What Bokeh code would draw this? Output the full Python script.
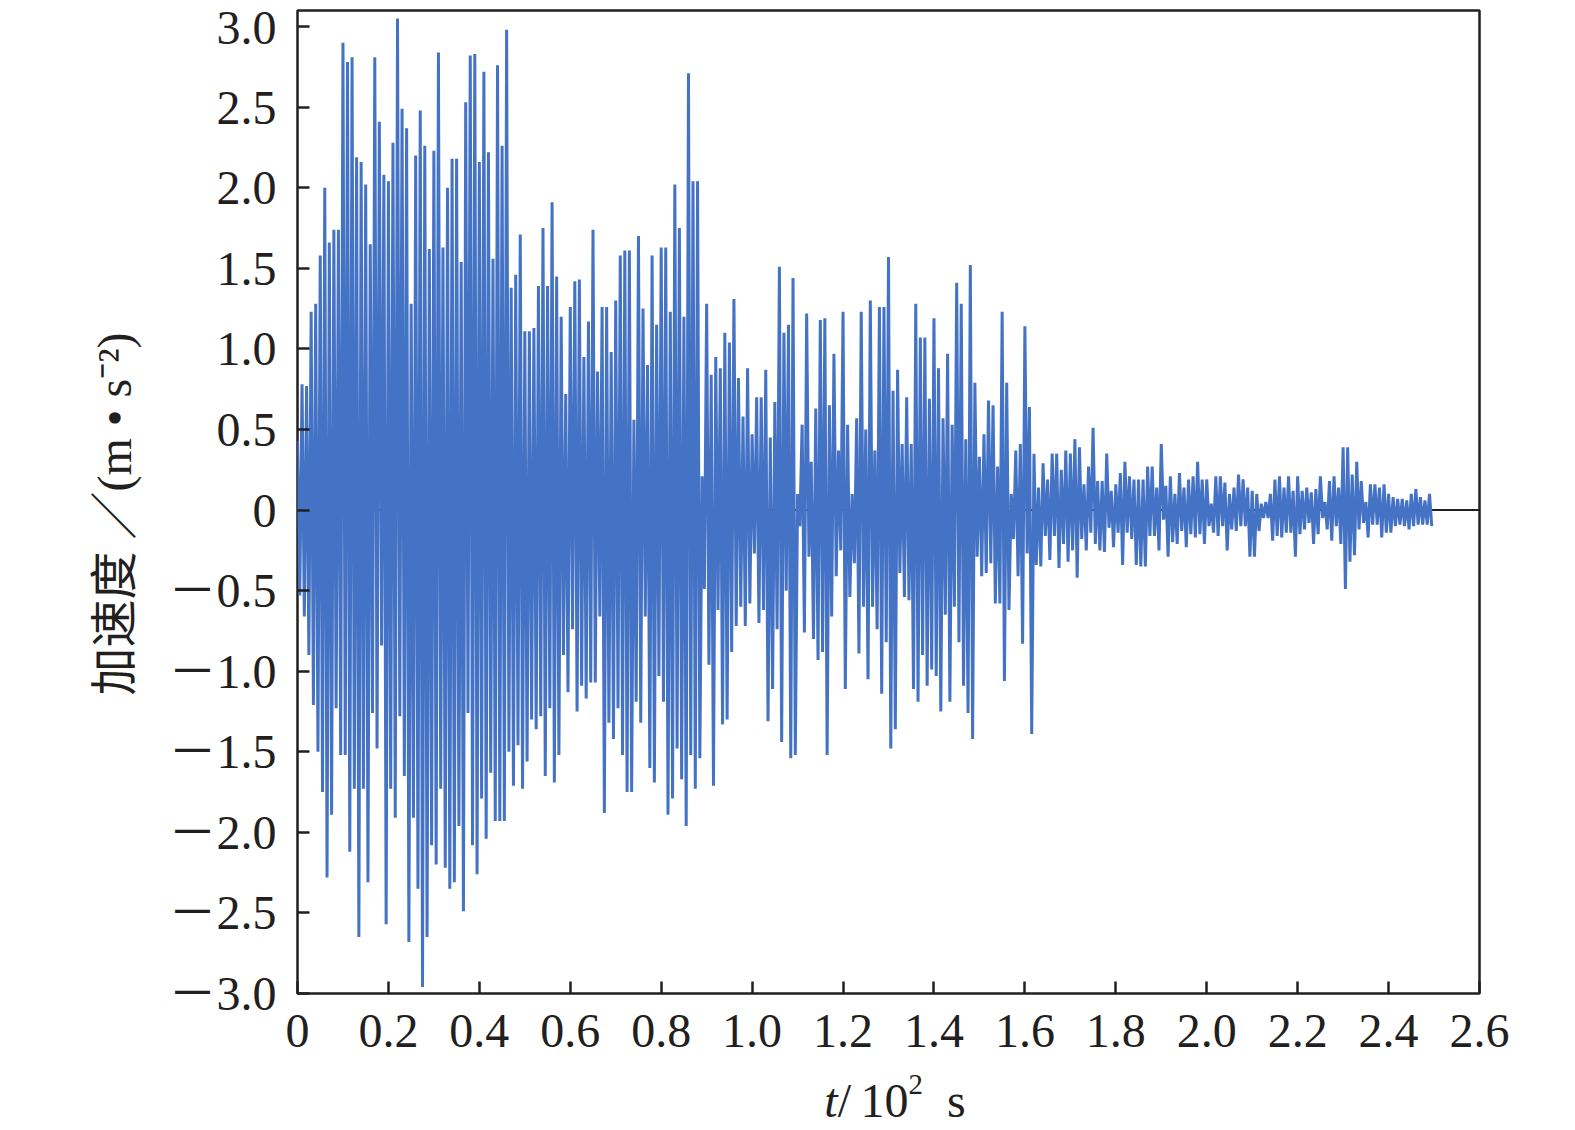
import numpy as np
from bokeh.plotting import figure
from bokeh.models import Range1d, FixedTicker, Span, Div
from bokeh.layouts import column
from bokeh.embed import file_html
from bokeh.resources import INLINE

# sampling step of the peak series, in 10^2 s
dt = 0.01

# positive peaks (m/s^2), one per 0.01 x10^2 s bin
peak_pos = [
    0.43, 0.78, 0.77, 1.23, 1.28, 1.58, 2.00, 1.66, 1.74, 1.74,
    2.90, 2.78, 2.81, 2.19, 2.16, 2.02, 1.65, 2.81, 2.41, 2.08,
    2.04, 2.28, 3.05, 2.49, 2.37, 1.28, 2.20, 2.48, 2.26, 1.62,
    2.23, 2.84, 1.63, 2.00, 2.18, 2.18, 1.54, 2.53, 2.82, 2.83,
    2.16, 2.72, 2.22, 1.56, 2.76, 2.26, 2.98, 1.38, 1.46, 1.71,
    1.11, 1.11, 1.13, 1.39, 1.75, 1.39, 1.91, 1.45, 1.20, 0.72,
    1.26, 1.42, 1.43, 0.95, 1.17, 1.74, 0.86, 1.26, 1.26, 0.98,
    1.30, 1.58, 1.61, 1.61, 0.56, 1.70, 1.25, 0.90, 1.58, 1.15,
    1.63, 1.63, 1.23, 2.02, 1.75, 1.20, 2.71, 2.04, 2.04, 0.21,
    1.28, 0.84, 0.95, 0.88, 1.10, 1.04, 1.31, 0.82, 0.58, 0.88,
    0.47, 0.70, 0.70, 0.87, 0.45, 0.67, 1.51, 1.10, 1.15, 1.44,
    0.10, 0.53, 1.22, 0.30, 0.63, 1.18, 1.19, 0.65, 0.97, 0.37,
    1.23, 0.53, 0.10, 0.57, 1.23, 0.50, 1.30, 0.37, 1.26, 1.26,
    1.57, 0.74, 0.87, 0.41, 0.70, 0.41, 1.28, 1.07, 1.07, 0.69,
    1.19, 0.88, 0.57, 0.97, 0.53, 1.41, 1.28, 0.44, 1.52, 0.79,
    0.33, 0.47, 0.68, 0.65, 0.27, 1.23, 0.79, 0.10, 0.37, 0.41,
    1.14, 0.64, 0.35, 0.14, 0.29, 0.19, 0.35, 0.35, 0.25, 0.37,
    0.35, 0.44, 0.39, 0.16, 0.27, 0.51, 0.18, 0.18, 0.35, 0.12,
    0.16, 0.23, 0.30, 0.21, 0.19, 0.19, 0.19, 0.27, 0.27, 0.14,
    0.41, 0.15, 0.21, 0.10, 0.23, 0.14, 0.19, 0.21, 0.30, 0.19,
    0.19, 0.04, 0.21, 0.21, 0.17, 0.10, 0.14, 0.22, 0.19, 0.14,
    0.12, 0.10, 0.04, 0.05, 0.10, 0.19, 0.21, 0.14, 0.21, 0.12,
    0.21, 0.12, 0.14, 0.11, 0.13, 0.21, 0.05, 0.18, 0.21, 0.14,
    0.39, 0.39, 0.22, 0.30, 0.18, 0.05, 0.16, 0.16, 0.14, 0.16,
    0.10, 0.08, 0.07, 0.07, 0.06, 0.10, 0.13, 0.08, 0.06, 0.10,
]

# negative peaks (m/s^2), same bins, half a step later
peak_neg = [
    -0.53, -0.66, -0.90, -1.21, -1.50, -1.75, -2.28, -1.89, -1.23, -1.52,
    -1.52, -2.12, -1.73, -2.65, -1.73, -2.31, -1.26, -1.48, -0.84, -2.57,
    -1.73, -1.91, -1.28, -1.65, -2.68, -1.91, -2.35, -2.96, -2.65, -2.08,
    -2.20, -1.73, -2.22, -2.35, -2.31, -1.96, -2.49, -1.26, -2.08, -2.26,
    -1.79, -2.04, -1.63, -1.93, -1.93, -1.93, -1.50, -1.71, -1.46, -1.73,
    -1.56, -1.30, -1.36, -1.28, -1.65, -1.23, -1.69, -1.52, -0.90, -1.13,
    -0.74, -1.25, -1.09, -1.17, -1.07, -1.07, -0.66, -1.88, -1.32, -1.42,
    -1.23, -1.52, -1.75, -1.75, -1.19, -1.32, -0.66, -1.60, -1.69, -1.03,
    -1.19, -1.89, -1.79, -1.48, -1.67, -1.96, -1.52, -1.73, -1.54, -0.49,
    -0.96, -1.71, -0.62, -1.33, -1.30, -0.88, -0.72, -0.60, -0.72, -0.58,
    -0.27, -0.70, -0.62, -1.31, -1.11, -0.74, -1.44, -0.50, -1.54, -1.52,
    -0.10, -0.76, -0.29, -0.80, -0.93, -0.88, -1.52, -0.66, -0.41, -0.25,
    -1.11, -0.54, -0.33, -0.89, -0.60, -1.05, -0.60, -0.74, -1.14, -0.82,
    -1.48, -1.36, -0.39, -0.54, -0.56, -1.11, -1.19, -0.90, -1.09, -0.99,
    -1.03, -1.25, -0.65, -1.19, -0.60, -0.82, -1.09, -1.26, -1.42, -0.29,
    -0.41, -0.39, -0.33, -0.58, -0.58, -1.06, -0.62, -0.18, -0.41, -0.83,
    -0.27, -1.39, -0.34, -0.35, -0.16, -0.31, -0.16, -0.36, -0.21, -0.32,
    -0.25, -0.42, -0.18, -0.25, -0.14, -0.21, -0.25, -0.26, -0.11, -0.23,
    -0.14, -0.34, -0.14, -0.18, -0.34, -0.35, -0.35, -0.16, -0.16, -0.25,
    -0.06, -0.29, -0.20, -0.21, -0.13, -0.23, -0.15, -0.17, -0.15, -0.21,
    -0.10, -0.14, -0.16, -0.10, -0.25, -0.12, -0.13, -0.10, -0.10, -0.29,
    -0.29, -0.13, -0.05, -0.05, -0.19, -0.16, -0.17, -0.14, -0.14, -0.29,
    -0.15, -0.12, -0.08, -0.21, -0.15, -0.05, -0.12, -0.19, -0.10, -0.21,
    -0.49, -0.32, -0.28, -0.12, -0.08, -0.17, -0.09, -0.09, -0.17, -0.14,
    -0.14, -0.10, -0.09, -0.10, -0.12, -0.10, -0.09, -0.09, -0.09, -0.10,
]

x_ticks = [0, 0.2, 0.4, 0.6, 0.8, 1.0, 1.2, 1.4, 1.6, 1.8, 2.0, 2.2, 2.4, 2.6]
x_tick_labels = ["0", "0.2", "0.4", "0.6", "0.8", "1.0", "1.2", "1.4",
                 "1.6", "1.8", "2.0", "2.2", "2.4", "2.6"]
y_ticks = [-3.0, -2.5, -2.0, -1.5, -1.0, -0.5, 0, 0.5, 1.0, 1.5, 2.0, 2.5, 3.0]
y_tick_labels = ["\uff0d3.0", "\uff0d2.5", "\uff0d2.0", "\uff0d1.5", "\uff0d1.0",
                 "\uff0d0.5", "0", "0.5", "1.0", "1.5", "2.0", "2.5", "3.0"]

y_label = "加速度 ／(m • s⁻²)\u00a0\u00a0"
x_label_html = ("<i>t</i>/&thinsp;10<sup style='font-size:60%;"
                "line-height:0;vertical-align:0.8em'>2</sup>&ensp;s")

# interleave positive and negative peaks along the time axis
n = len(peak_pos)
t_pos = np.arange(n) * dt
t_neg = t_pos + dt / 2
ts = np.empty(2 * n)
acc = np.empty(2 * n)
ts[0::2] = t_pos
ts[1::2] = t_neg
acc[0::2] = peak_pos
acc[1::2] = peak_neg

INK = "#231f20"
BLUE = "#4472C4"
SERIF = "Liberation Serif, Noto Sans CJK SC"

LEFT, FRAME_W, RIGHT = 297, 1182, 66
TOP, FRAME_H, BOTTOM = 10, 983, 84

p = figure(width=LEFT + FRAME_W + RIGHT, height=TOP + FRAME_H + BOTTOM,
           x_range=Range1d(0, 2.6), y_range=Range1d(-3.0, 3.1),
           output_backend="svg", toolbar_location=None,
           min_border_left=LEFT, min_border_right=RIGHT,
           min_border_top=TOP, min_border_bottom=BOTTOM)

p.grid.visible = False
p.background_fill_color = "white"
p.border_fill_color = "white"
p.outline_line_color = INK
p.outline_line_width = 2.5
p.outline_line_alpha = 1.0

zero = Span(location=0, dimension="width", line_color=INK, line_width=2,
            level="underlay")
p.add_layout(zero)

p.line(ts, acc, line_color=BLUE, line_width=3.0)

for ax in (p.xaxis[0], p.yaxis[0]):
    ax.axis_line_color = None
    ax.major_tick_in = 12
    ax.major_tick_out = 0
    ax.major_tick_line_width = 2.5
    ax.major_tick_line_color = INK
    ax.minor_tick_line_color = None
    ax.major_label_text_font = SERIF
    ax.major_label_text_font_size = "48px"
    ax.major_label_text_color = INK

p.xaxis.ticker = FixedTicker(ticks=x_ticks)
p.xaxis.major_label_overrides = dict(zip(x_ticks, x_tick_labels))
p.xaxis.major_label_standoff = 21

p.yaxis.ticker = FixedTicker(ticks=y_ticks)
p.yaxis.major_label_overrides = dict(zip(y_ticks, y_tick_labels))
p.yaxis.major_label_standoff = 21

p.yaxis.axis_label = y_label
p.yaxis.axis_label_text_font = SERIF
p.yaxis.axis_label_text_font_style = "normal"
p.yaxis.axis_label_text_font_size = "48px"
p.yaxis.axis_label_text_color = INK
p.yaxis.axis_label_standoff = 24

xlab = Div(text=x_label_html, width=FRAME_W, height=44,
           margin=(0, 0, 0, LEFT + 7),
           styles={"font-family": "'Liberation Serif', serif",
                   "font-size": "48px", "line-height": "48px",
                   "color": INK, "text-align": "center"})

layout = column(p, xlab, spacing=0)

open("out.html", "w").write(file_html(layout, INLINE))
